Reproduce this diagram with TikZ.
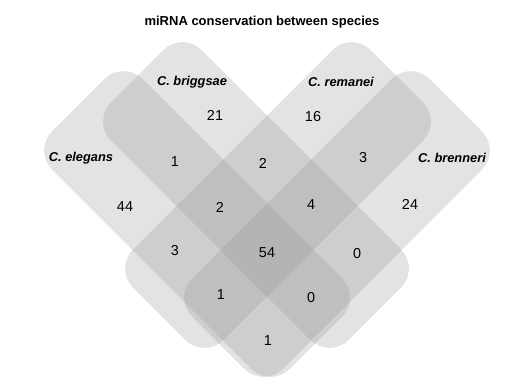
\documentclass[tikz,border=0pt]{standalone}
\usepackage{fontspec}
\setmainfont{Liberation Sans}
\usepackage{tikz}
\usepackage{xcolor}

\begin{document}
\begin{tikzpicture}[
	myset/.style={
		rectangle,
		fill=black!41,
		fill opacity=0.27,
		rounded corners=0.54cm,
		minimum width=6.72cm,
		minimum height=2.56cm,
		rotate=#1
	},
	mytitle/.style={font=\fontsize{7.4}{9}\selectfont\bfseries},
	mylabel/.style={font=\fontsize{7.3}{9}\selectfont\bfseries\itshape},
	mynum/.style={font=\fontsize{8.2}{10}\selectfont}]

	\useasboundingbox (0,0) rectangle (10.2,7.78);

	\node[myset=-45] (elegans) at (3.94,3.30) {};
	\node[myset=-45] (briggsae) at (5.12,3.88) {};
	\node[myset=45] (remanei) at (5.56,3.88) {};
	\node[myset=45] (brenneri) at (6.74,3.30) {};

	\node[mytitle] (title) at (5.24,7.34) {miRNA conservation between species};

	\node[mylabel] (lbriggsae) at (3.84,6.14) {C. briggsae};
	\node[mylabel] (lremanei) at (6.82,6.14) {C. remanei};
	\node[mylabel] (lelegans) at (1.62,4.62) {C. elegans};
	\node[mylabel] (lbrenneri) at (9.04,4.62) {C. brenneri};

	\node[mynum] (b) at (4.30,5.48) {21};
	\node[mynum] (r) at (6.26,5.44) {16};
	\node[mynum] (eb) at (3.50,4.54) {1};
	\node[mynum] (br) at (5.26,4.52) {2};
	\node[mynum] (rn) at (7.26,4.62) {3};
	\node[mynum] (e) at (2.50,3.64) {44};
	\node[mynum] (ebr) at (4.40,3.64) {2};
	\node[mynum] (brn) at (6.22,3.68) {4};
	\node[mynum] (n) at (8.20,3.70) {24};
	\node[mynum] (er) at (3.50,2.76) {3};
	\node[mynum] (ebrn) at (5.34,2.72) {54};
	\node[mynum] (bn) at (7.14,2.70) {0};
	\node[mynum] (ern) at (4.42,1.88) {1};
	\node[mynum] (ebn) at (6.22,1.82) {0};
	\node[mynum] (en) at (5.36,0.96) {1};
\end{tikzpicture}
\end{document}
